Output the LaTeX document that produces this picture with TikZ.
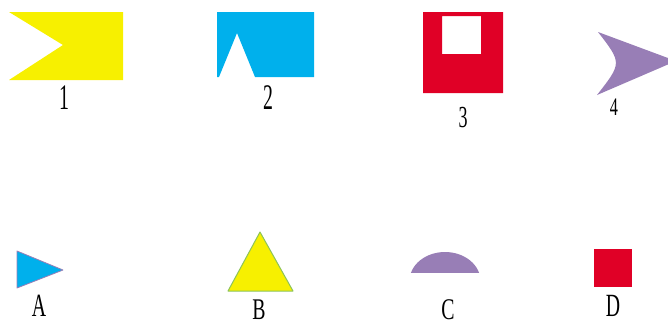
\documentclass[tikz,border=0pt]{standalone}
\usepackage{graphicx}
\usepackage{fontspec}
\setmainfont{Liberation Serif}
\definecolor{cyel}{RGB}{247,240,0}
\definecolor{cblu}{RGB}{0,176,236}
\definecolor{cred}{RGB}{224,0,38}
\definecolor{cpur}{RGB}{152,126,182}
\definecolor{cgrn}{RGB}{140,195,90}
\begin{document}
\begin{tikzpicture}[x=1pt,y=-1pt,
  lbl/.style={inner sep=0pt,font=\fontsize{36}{36}\selectfont},
  lbs/.style={inner sep=0pt,font=\fontsize{30}{30}\selectfont},
  shp/.style={line join=round}]
\useasboundingbox (0,0) rectangle (668,325);
\clip (0,0) rectangle (668,325);
% shape 1
\fill[cyel,shp] (9,12) -- (123,12) -- (123,80) -- (9,80) -- (63,45) -- cycle;
\node[lbl] (l1) at (64,98) {\scalebox{0.55}[1]{1}};
% shape 2
\fill[cblu,shp] (217,12) -- (314,12) -- (314,77) -- (255,77) -- (237,33) -- (219,77) -- (217,77) -- cycle;
\node[lbl] (l2) at (268,98) {\scalebox{0.55}[1]{2}};
% shape 3
\fill[cred,even odd rule] (423,12) rectangle (503,93) (442,16) rectangle (481,54);
\node[lbl] (l3) at (463,118) {\scalebox{0.5}[0.85]{3}};
% shape 4
\fill[cpur,shp] (598,32) -- (676,61) -- (597,95) .. controls (622,63) .. (598,32) -- cycle;
\node[lbl] (l4) at (614,107) {\scalebox{0.45}[0.7]{4}};
% A
\filldraw[fill=cblu,draw=cpur,line width=0.8pt,shp] (17,251) -- (63,270) -- (17,288) -- cycle;
\node[lbl] (lA) at (39,306) {\scalebox{0.55}[0.9]{A}};
% B
\filldraw[fill=cyel,draw=cgrn,line width=1pt,shp] (260,232) -- (293,291) -- (228,291) -- cycle;
\node[lbs] (lB) at (259,310) {\scalebox{0.66}[1]{B}};
% C
\begin{scope}
\clip (400,240) rectangle (490,272);
\fill[cpur] (445,281) ellipse [x radius=35.5, y radius=29];
\end{scope}
\node[lbs] (lC) at (448,310) {\scalebox{0.66}[1]{C}};
% D
\fill[cred] (594,249) rectangle (632,287);
\node[lbl] (lD) at (613,306) {\scalebox{0.55}[0.9]{D}};
\end{tikzpicture}
\end{document}
